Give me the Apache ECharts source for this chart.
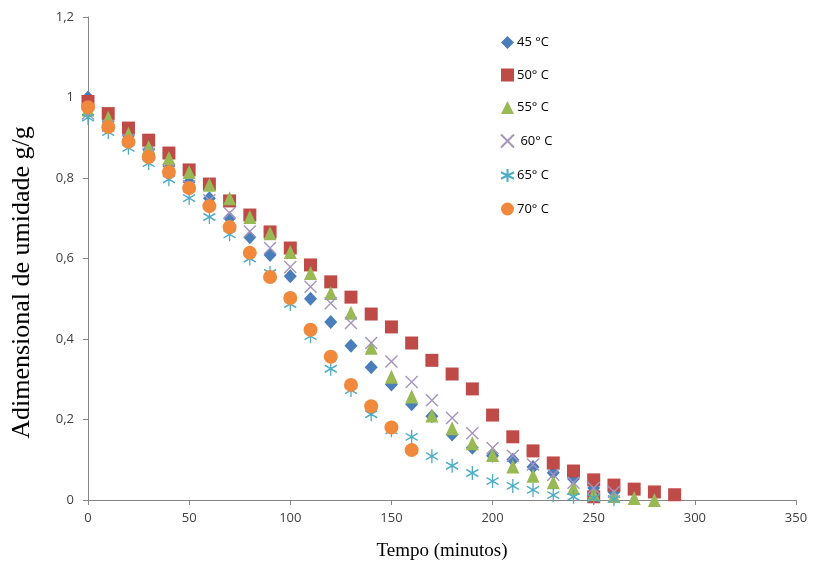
<!DOCTYPE html>
<html>
<head>
<meta charset="utf-8">
<script src="https://cdn.jsdelivr.net/npm/echarts@6/dist/echarts.min.js"></script>
<style>
  html, body { margin: 0; padding: 0; background: #fff; }
  #chart { width: 813px; height: 565px; }
</style>
</head>
<body>
<div id="chart"></div>
<script>
// drying curves, one reading every 10 minutes
const minutes = [0, 10, 20, 30, 40, 50, 60, 70, 80, 90, 100, 110, 120, 130, 140,
  150, 160, 170, 180, 190, 200, 210, 220, 230, 240, 250, 260, 270, 280, 290];

const t45 = [1.0, 0.94, 0.905, 0.87, 0.83, 0.79, 0.75, 0.70, 0.653, 0.609, 0.556, 0.50, 0.442, 0.383,
  0.33, 0.287, 0.238, 0.208, 0.163, 0.13, 0.11, 0.10, 0.082, 0.068, 0.053, 0.03, 0.02];
const t50 = [0.99, 0.96, 0.924, 0.894, 0.862, 0.82, 0.785, 0.743, 0.708, 0.666, 0.626, 0.584, 0.542,
  0.504, 0.462, 0.43, 0.39, 0.347, 0.313, 0.276, 0.211, 0.157, 0.122, 0.092, 0.072, 0.05, 0.037,
  0.027, 0.02, 0.013];
const extra50 = [[250, 0.008]];
const t55 = [0.97, 0.95, 0.91, 0.877, 0.85, 0.815, 0.783, 0.75, 0.703, 0.663, 0.616, 0.564, 0.514,
  0.465, 0.378, 0.306, 0.257, 0.21, 0.178, 0.141, 0.112, 0.083, 0.06, 0.044, 0.03, 0.015, 0.01,
  0.005, 0.0];
const t60 = [0.96, 0.93, 0.895, 0.86, 0.82, 0.78, 0.745, 0.713, 0.667, 0.626, 0.579, 0.53, 0.489,
  0.44, 0.39, 0.344, 0.293, 0.248, 0.204, 0.166, 0.129, 0.11, 0.088, 0.063, 0.043, 0.03, 0.02];
const t65 = [0.95, 0.914, 0.875, 0.837, 0.797, 0.75, 0.703, 0.66, 0.6, 0.564, 0.487, 0.407, 0.326,
  0.273, 0.213, 0.173, 0.157, 0.109, 0.085, 0.067, 0.047, 0.035, 0.025, 0.012, 0.008, 0.005, 0.002];
const t70 = [0.976, 0.927, 0.89, 0.852, 0.815, 0.775, 0.73, 0.678, 0.614, 0.554, 0.502, 0.423,
  0.356, 0.286, 0.233, 0.18, 0.124];

const seriesNames = ['45 °C', '50° C', '55° C', ' 60° C', '65° C', '70° C'];

const pairs = (values) => values.map((v, i) => [minutes[i], v]);

const crossPath = 'path://M0,0L10,10M10,0L0,10';
const starPath = 'path://M5,0L5,10M0,2.5L10,7.5M10,2.5L0,7.5';

const chart = echarts.init(document.getElementById('chart'), null, { renderer: 'canvas' });

const axisLine = { lineStyle: { color: '#868686', width: 1 } };
const labelFont = { color: '#404040', fontSize: 13, fontFamily: 'Open Sans, Liberation Sans, sans-serif' };

const option = {
  animation: false,
  backgroundColor: '#fff',
  grid: { left: 88, right: 17, top: 17, bottom: 65, containLabel: false, outerBoundsMode: 'none' },
  legend: {
    orient: 'vertical',
    left: 495,
    top: 31,
    itemWidth: 13,
    itemHeight: 13,
    itemGap: 19.5,
    textStyle: { color: '#000', fontSize: 13, lineHeight: 13, fontFamily: 'Open Sans, Liberation Sans, sans-serif', padding: [0, 0, 0, -2] },
    data: seriesNames,
  },
  xAxis: {
    type: 'value',
    min: 0,
    max: 350,
    interval: 50,
    name: 'Tempo (minutos)',
    nameLocation: 'middle',
    nameGap: 42,
    nameTextStyle: { color: '#000', fontSize: 19, fontFamily: 'Liberation Serif, serif' },
    axisLine,
    axisTick: { show: true, length: 5, lineStyle: { color: '#868686' } },
    axisLabel: { ...labelFont, margin: 12 },
    splitLine: { show: false },
  },
  yAxis: {
    type: 'value',
    min: 0,
    max: 1.2,
    interval: 0.2,
    name: 'Adimensional de umidade g/g',
    nameLocation: 'middle',
    nameGap: 53,
    nameTextStyle: {
      color: '#000', fontSize: 26, fontFamily: 'Liberation Serif, serif',
      padding: [0, 48, 0, 0],
    },
    axisLine: { show: true, ...axisLine },
    axisTick: { show: true, length: 5, lineStyle: { color: '#868686' } },
    axisLabel: {
      ...labelFont,
      margin: 14,
      formatter: (v) => String(Math.round(v * 10) / 10).replace('.', ','),
    },
    splitLine: { show: false },
  },
  series: [
    {
      name: seriesNames[0],
      type: 'scatter',
      symbol: 'diamond',
      symbolSize: [13, 14],
      itemStyle: { color: '#4A7EBB', opacity: 1 },
      data: pairs(t45),
    },
    {
      name: seriesNames[1],
      type: 'scatter',
      symbol: 'rect',
      symbolSize: 13,
      itemStyle: { color: '#BE4B48', opacity: 1 },
      data: pairs(t50).concat(extra50),
    },
    {
      name: seriesNames[2],
      type: 'scatter',
      symbol: 'triangle',
      symbolSize: [13, 14],
      itemStyle: { color: '#98B954', opacity: 1 },
      data: pairs(t55),
    },
    {
      name: seriesNames[3],
      type: 'scatter',
      symbol: crossPath,
      symbolSize: 12,
      itemStyle: { color: 'rgba(0,0,0,0)', borderColor: '#A494BE', borderWidth: 1.4, opacity: 1 },
      data: pairs(t60),
    },
    {
      name: seriesNames[4],
      type: 'scatter',
      symbol: starPath,
      symbolSize: [12, 14],
      itemStyle: { color: 'rgba(0,0,0,0)', borderColor: '#4BACC6', borderWidth: 1.4, opacity: 1 },
      data: pairs(t65),
    },
    {
      name: seriesNames[5],
      type: 'scatter',
      symbol: 'circle',
      symbolSize: 14,
      itemStyle: { color: '#F0893C', opacity: 1 },
      data: pairs(t70),
    },
  ],
};

chart.setOption(option);
</script>
</body>
</html>
